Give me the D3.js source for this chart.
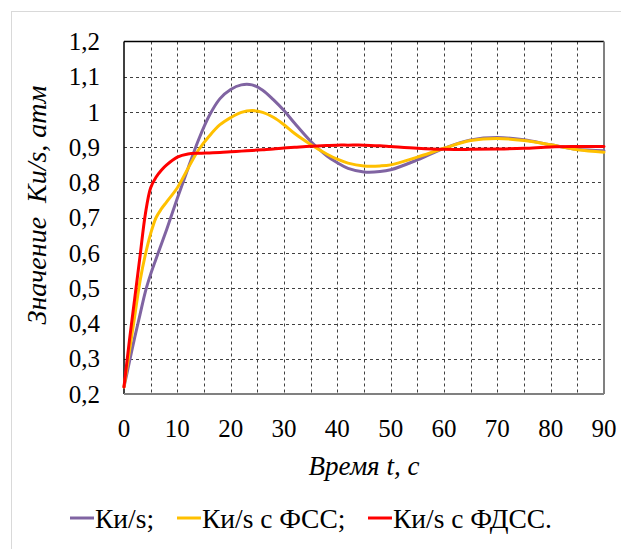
<!DOCTYPE html>
<meta charset="utf-8">
<style>
    html, body {
        margin: 0;
        padding: 0;
        background: #fff;
    }

    svg text {
        font-family: 'Liberation Serif', 'Times New Roman', serif;
        fill: #000;
    }

    .grid line {
        stroke: #404040;
        stroke-width: 1px;
        stroke-dasharray: 3, 3;
    }

    .series {
        fill: none;
        stroke-width: 3px;
        stroke-linejoin: round;
        stroke-linecap: round;
    }
</style>
<html>
<head>
    <script src="https://d3js.org/d3.v7.min.js"></script>
</head>
<body>
<svg id="chart" width="621" height="549"></svg>
<script>
    // time, s
    var time = [0, 1, 2, 3, 4, 5, 6, 7, 8, 10, 12, 14, 16, 18, 20, 22, 24, 26, 28, 30, 32, 35, 38, 40, 42, 45, 48, 50, 55, 60, 65, 70, 75, 80, 85, 90];

    // Ки/s
    var kis = [0.22, 0.29, 0.36, 0.425, 0.49, 0.54, 0.583, 0.625, 0.667, 0.755, 0.84, 0.922, 0.99, 1.038, 1.064, 1.077, 1.077, 1.062, 1.035, 1.004, 0.968, 0.917, 0.876, 0.856, 0.84, 0.83, 0.831, 0.836, 0.864, 0.897, 0.921, 0.928, 0.921, 0.907, 0.894, 0.89];
    // Ки/s с ФСС
    var kisFss = [0.22, 0.32, 0.42, 0.52, 0.595, 0.655, 0.70, 0.725, 0.745, 0.785, 0.84, 0.893, 0.932, 0.964, 0.984, 0.999, 1.004, 0.999, 0.985, 0.964, 0.939, 0.908, 0.881, 0.866, 0.855, 0.847, 0.847, 0.85, 0.872, 0.897, 0.919, 0.925, 0.919, 0.907, 0.893, 0.886];
    // Ки/s с ФДСС
    var kisFdss = [0.22, 0.35, 0.47, 0.59, 0.71, 0.785, 0.815, 0.835, 0.85, 0.872, 0.881, 0.883, 0.884, 0.885, 0.887, 0.889, 0.891, 0.893, 0.895, 0.898, 0.9, 0.903, 0.905, 0.906, 0.906, 0.906, 0.904, 0.902, 0.897, 0.894, 0.894, 0.895, 0.897, 0.901, 0.902, 0.902];

    var seriesNames = ["Ки/s;", "Ки/s с ФСС;", "Ки/s с ФДСС."];
    var seriesColors = ["#8064a2", "#ffc000", "#ff0000"];
    var seriesValues = [kis, kisFss, kisFdss];

    var xTicks = [0, 10, 20, 30, 40, 50, 60, 70, 80, 90];
    var xGrid = [5, 10, 15, 20, 25, 30, 35, 40, 45, 50, 55, 60, 65, 70, 75, 80, 85];
    var yTicks = [0.2, 0.3, 0.4, 0.5, 0.6, 0.7, 0.8, 0.9, 1.0, 1.1, 1.2];

    var svg = d3.select("#chart");

    // outer chart frame
    svg.append("rect")
        .attr("x", 11.5).attr("y", 11.5)
        .attr("width", 640).attr("height", 560)
        .style("fill", "none").style("stroke", "#d9d9d9").style("stroke-width", "1px");

    var pLeft = 124, pRight = 604, pTop = 41.5, pBottom = 394;
    var x = d3.scaleLinear().domain([0, 90]).range([pLeft, pRight]);
    var y = d3.scaleLinear().domain([0.2, 1.2]).range([pBottom, pTop]);

    // grid
    var grid = svg.append("g").attr("class", "grid");
    grid.selectAll(".vg").data(xGrid).enter().append("line")
        .attr("x1", function (d) { return Math.round(x(d)) + 0.5; })
        .attr("x2", function (d) { return Math.round(x(d)) + 0.5; })
        .attr("y1", pTop).attr("y2", pBottom);
    grid.selectAll(".hg").data(yTicks.slice(1, -1)).enter().append("line")
        .attr("y1", function (d) { return Math.round(y(d)) + 0.5; })
        .attr("y2", function (d) { return Math.round(y(d)) + 0.5; })
        .attr("x1", pLeft).attr("x2", pRight);

    // plot border
    svg.append("line").attr("x1", pLeft).attr("x2", pRight).attr("y1", pTop).attr("y2", pTop)
        .style("stroke", "#000").style("stroke-width", "1.5px");
    svg.append("line").attr("x1", pRight).attr("x2", pRight).attr("y1", pTop).attr("y2", pBottom)
        .style("stroke", "#808080").style("stroke-width", "2px");
    svg.append("line").attr("x1", pLeft).attr("x2", pLeft).attr("y1", pTop).attr("y2", pBottom)
        .style("stroke", "#000").style("stroke-width", "1.5px");
    svg.append("line").attr("x1", pLeft).attr("x2", pRight).attr("y1", pBottom).attr("y2", pBottom)
        .style("stroke", "#808080").style("stroke-width", "2px");

    // tick labels
    svg.selectAll(".xl").data(xTicks).enter().append("text")
        .attr("x", function (d) { return x(d); })
        .attr("y", 437)
        .attr("text-anchor", "middle")
        .style("font-size", "25px")
        .text(function (d) { return d; });
    svg.selectAll(".yl").data(yTicks).enter().append("text")
        .attr("x", 100)
        .attr("y", function (d) { return y(d) + 8.5; })
        .attr("text-anchor", "end")
        .style("font-size", "25px")
        .text(function (d) { return d3.format(".1f")(d).replace(".", ",").replace(",0", ""); });

    // axis titles
    svg.append("text")
        .attr("x", 364).attr("y", 475)
        .attr("text-anchor", "middle")
        .style("font-size", "27px").style("font-style", "italic")
        .text("Время t, с");
    svg.append("text")
        .attr("transform", "translate(46,205) rotate(-90)")
        .attr("text-anchor", "middle")
        .style("font-size", "28px").style("font-style", "italic")
        .style("white-space", "pre")
        .text("Значение  Ки/s, атм");

    // series lines
    var line = d3.line()
        .x(function (d) { return x(d[0]); })
        .y(function (d) { return y(d[1]); })
        .curve(d3.curveCatmullRom.alpha(0.5));
    seriesValues.forEach(function (vals, i) {
        var pts = time.map(function (t, j) { return [t, vals[j]]; });
        svg.append("path")
            .attr("class", "series")
            .style("stroke", seriesColors[i])
            .attr("d", line(pts));
    });

    // legend
    var legendX = [70, 177, 368];
    var legend = svg.selectAll(".leg").data(seriesNames).enter().append("g")
        .attr("transform", function (d, i) { return "translate(" + legendX[i] + ",518)"; });
    legend.append("line")
        .attr("x1", 0).attr("x2", 24).attr("y1", 0).attr("y2", 0)
        .style("stroke", function (d, i) { return seriesColors[i]; })
        .style("stroke-width", "3px");
    legend.append("text")
        .attr("x", 25).attr("y", 9.5)
        .style("font-size", "27.5px")
        .text(function (d) { return d; });
</script>
</body>
</html>
